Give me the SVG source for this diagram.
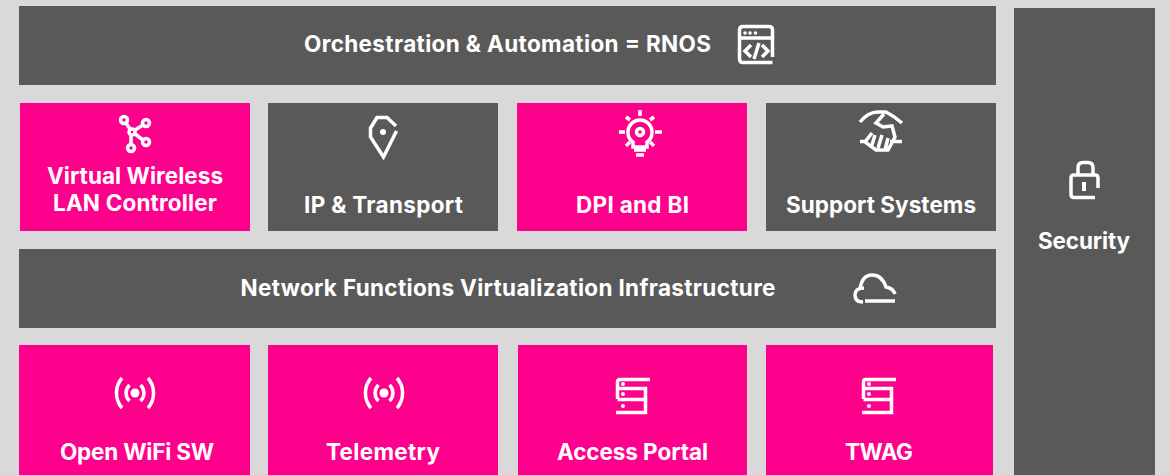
<svg xmlns="http://www.w3.org/2000/svg" width="1170" height="475" viewBox="0 0 1170 475">
<style>
.g{fill:#595959}.p{fill:#ff008c}
text{font-family:"Inter","Liberation Sans",sans-serif;font-weight:700;font-size:22.500px;fill:#fff;text-anchor:middle}
.i{fill:none;stroke:#fff;stroke-width:3.500}
.f{fill:#fff;stroke:none}
</style>
<defs>
<g id="signal"><circle class="f" r="4.500"/><path class="i" d="M-5.500-8A11 11 0 0 0-5.500 8M5.500-8A11 11 0 0 1 5.500 8M-13-15A23 23 0 0 0-13 15M13-15A23 23 0 0 1 13 15"/></g>
<g id="server"><path class="i" d="M34 1.500H4Q1.500 1.500 1.500 4V21M1.500 10.500H29.500V34.500H0M1.500 21.500H29.500"/><circle class="f" cx="7" cy="6" r="2"/><circle class="f" cx="7" cy="16" r="2"/><circle class="f" cx="7" cy="28" r="2"/></g>
</defs>
<rect width="1170" height="475" fill="#d9d9d9"/>
<g id="orchestration"><rect class="g" x="19" y="6" width="977" height="79"/><text x="507.500" y="52" textLength="407">Orchestration &amp; Automation = RNOS</text>
<path class="i" d="M772.500 57V30Q772.500 26.500 769 26.500H743Q739.500 26.500 739.500 30V59Q739.500 62.500 743 62.500H772.500M739.500 38H772.500M751 45L745 51L751 57M762 45L768 51L762 57M759 43L754 59"/><circle class="f" cx="745" cy="33" r="1.800"/><circle class="f" cx="750" cy="33" r="1.800"/><circle class="f" cx="755.500" cy="33" r="1.800"/></g>
<g id="vwlc"><rect class="p" x="20" y="103" width="230" height="128"/><text x="135" y="184" textLength="176">Virtual Wireless</text><text x="135" y="211" textLength="164">LAN Controller</text>
<g class="i"><circle cx="124" cy="120" r="3.500"/><circle cx="146" cy="123" r="3.500"/><circle cx="146" cy="142" r="3.500"/><circle cx="131" cy="148" r="3.500"/><circle cx="132" cy="132" r="3"/><path d="M126 123L130 129M143 125L135 130M143 140L135 134M131 135V144"/></g></g>
<g id="ip"><rect class="g" x="268" y="103" width="230" height="128"/><text x="383.500" y="213" textLength="159">IP &amp; Transport</text>
<path class="i" d="M396 126L387 117.500H377L370.500 128V137L383.500 157L396.500 131"/><circle class="f" cx="383" cy="132" r="3"/></g>
<g id="dpi"><rect class="p" x="517" y="103" width="230" height="128"/><text x="632.500" y="213" textLength="113">DPI and BI</text>
<path class="i" d="M633 147V142Q628 139 628 132A12 12 0 0 1 652 132Q652 139 647 142V147Z"/><circle class="i" cx="640" cy="132" r="3.500"/><path class="i" d="M640 110V116M626 117L630 120M654 117L650 120M619 132H625M655 132H662M626 146L630 142M654 146L650 142M634 150H646M636 155H644"/></g>
<g id="support"><rect class="g" x="766" y="103" width="230" height="128"/><text x="881" y="213" textLength="190">Support Systems</text>
<path class="i" d="M860 122Q868 112 878 112H886Q894 116 902 123M884 114L876 123L883 127L892 126L895 137L888 150H876L865 142L872 133M860 141.500H867M890 141.500H902M875 135L872 145M882 135L878 148M888 138L885 150"/></g>
<g id="nfvi"><rect class="g" x="19" y="249" width="977" height="79"/><text x="508" y="296" textLength="535">Network Functions Virtualization Infrastructure</text>
<path class="i" d="M895 294Q893 288 886 287Q882 275 872 275Q862 275 860 289M864 288Q855 288 855 295Q855 302 863 302M865 301H895"/></g>
<g id="wifi"><rect class="p" x="19" y="345" width="231" height="130"/><text x="137" y="460" textLength="154">Open WiFi SW</text><use href="#signal" x="135" y="393"/></g>
<g id="telemetry"><rect class="p" x="268" y="345" width="230" height="130"/><text x="383" y="460" textLength="114">Telemetry</text><use href="#signal" x="384" y="393"/></g>
<g id="portal"><rect class="p" x="518" y="345" width="229" height="130"/><text x="632.500" y="460" textLength="151">Access Portal</text><use href="#server" x="616" y="378"/></g>
<g id="twag"><rect class="p" x="766" y="345" width="227" height="130"/><text x="879" y="460" textLength="68">TWAG</text><use href="#server" x="862" y="378"/></g>
<g id="security"><rect class="g" x="1014" y="8" width="141" height="467"/><text x="1084" y="249" textLength="92">Security</text>
<path class="i" d="M1078 174V168Q1078 162.500 1083 162.500H1088Q1093 162.500 1093 168V174M1098 188V178Q1098 175 1095 175H1074Q1071 175 1071 178V194.500Q1071 197.500 1074 197.500H1095"/><rect class="f" x="1082" y="182" width="4" height="9"/></g>
<g id="connectors"/>
</svg>
